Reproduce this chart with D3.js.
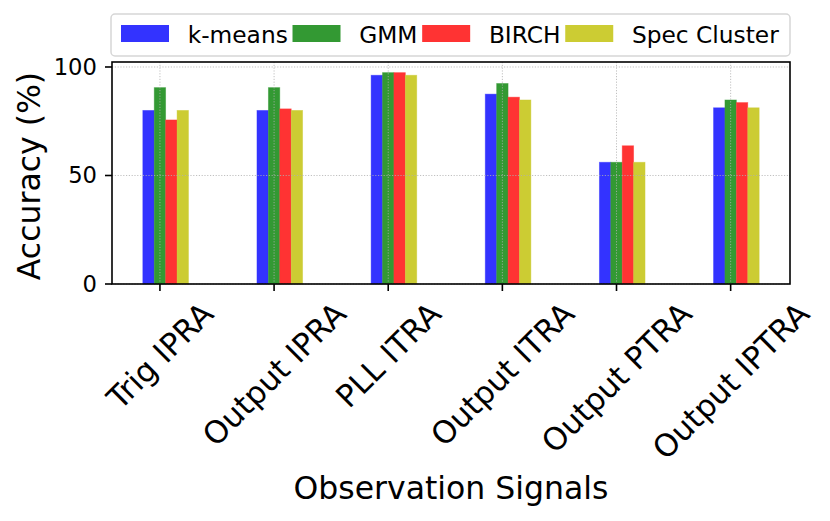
<!DOCTYPE html>
<html lang="en">
<head>
  <meta charset="UTF-8">
  <title>Accuracy by observation signal</title>
  <script src="https://cdn.jsdelivr.net/npm/d3@7"></script>
  <style>
    body { margin: 0; padding: 0; background: #fff; }
    svg { display: block; font-family: "DejaVu Sans", sans-serif; }
  </style>
</head>
<body>
<div id="chart"></div>
<script>
// data
var categories = ["Trig IPRA", "Output IPRA", "PLL ITRA", "Output ITRA", "Output PTRA", "Output IPTRA"];
var seriesNames = ["k-means", "GMM", "BIRCH", "Spec Cluster"];
var kmeans = [80.0, 80.0, 96.2, 87.5, 56.1, 81.2];
var gmm    = [90.5, 90.5, 97.4, 92.4, 56.1, 84.8];
var birch  = [75.6, 80.7, 97.4, 86.1, 63.7, 83.6];
var spec   = [80.0, 80.0, 96.2, 84.8, 56.1, 81.2];
var yTicks = [0, 50, 100];

var series = [kmeans, gmm, birch, spec];
var colors = ["#3333ff", "#339933", "#ff3333", "#cccc33"];
var offsets = [-0.1, 0, 0.1, 0.2];
var barW = 0.1;

var W = 830, H = 521;
var plotL = 112, plotR = 790, plotT = 62, plotB = 284;

var svg = d3.select("#chart").append("svg")
    .attr("width", W).attr("height", H);

var x = d3.scaleLinear().domain([-0.42, 5.52]).range([plotL, plotR]);
var y = d3.scaleLinear().domain([0, 102.3]).range([plotB, plotT]);

// bars
series.forEach(function(vals, s) {
  svg.append("g").selectAll("rect")
    .data(vals)
    .enter().append("rect")
    .attr("x", function(d, i) { return x(i + offsets[s] - barW / 2); })
    .attr("width", x(barW) - x(0))
    .attr("y", function(d) { return y(d); })
    .attr("height", function(d) { return y(0) - y(d); })
    .attr("fill", colors[s])
    .attr("stroke", colors[s])
    .attr("stroke-opacity", 0.5)
    .attr("stroke-width", 0.8);
});

// grid on top of the bars
var grid = svg.append("g")
    .attr("stroke", "#b0b0b0")
    .attr("stroke-width", 0.8)
    .attr("stroke-dasharray", "1.2,1.6");
grid.selectAll(".gy").data(yTicks).enter().append("line")
    .attr("x1", plotL).attr("x2", plotR)
    .attr("y1", function(d) { return y(d); })
    .attr("y2", function(d) { return y(d); });
grid.selectAll(".gx").data(categories).enter().append("line")
    .attr("y1", plotT).attr("y2", plotB)
    .attr("x1", function(d, i) { return x(i); })
    .attr("x2", function(d, i) { return x(i); });

// frame
svg.append("rect")
    .attr("x", plotL).attr("y", plotT)
    .attr("width", plotR - plotL).attr("height", plotB - plotT)
    .attr("fill", "none").attr("stroke", "#000").attr("stroke-width", 1.6);

// y axis
var yAxis = svg.append("g");
yAxis.selectAll("line").data(yTicks).enter().append("line")
    .attr("x1", plotL - 7).attr("x2", plotL)
    .attr("y1", function(d) { return y(d); })
    .attr("y2", function(d) { return y(d); })
    .attr("stroke", "#000").attr("stroke-width", 1.6);
yAxis.selectAll("text").data(yTicks).enter().append("text")
    .attr("x", plotL - 15)
    .attr("y", function(d) { return y(d); })
    .attr("text-anchor", "end")
    .attr("dominant-baseline", "central")
    .attr("font-size", "22.7px")
    .text(function(d) { return d; });

// x axis
var fs = 31;
var xAxis = svg.append("g");
xAxis.selectAll("line").data(categories).enter().append("line")
    .attr("x1", function(d, i) { return x(i); })
    .attr("x2", function(d, i) { return x(i); })
    .attr("y1", plotB).attr("y2", plotB + 7)
    .attr("stroke", "#000").attr("stroke-width", 1.6);
xAxis.selectAll("text").data(categories).enter().append("text")
    .attr("text-anchor", "middle")
    .attr("dominant-baseline", "central")
    .attr("font-size", fs + "px")
    .text(function(d) { return d; })
    .each(function(d, i) {
      var w = this.getComputedTextLength();
      var cy = 297 + (w + fs) / (2 * Math.SQRT2);
      d3.select(this).attr("transform",
        "translate(" + x(i) + "," + cy + ") rotate(-45)");
    });

// axis titles
svg.append("text")
    .attr("transform", "translate(29,176) rotate(-90)")
    .attr("text-anchor", "middle")
    .attr("dominant-baseline", "central")
    .attr("font-size", "31.5px")
    .text("Accuracy (%)");
svg.append("text")
    .attr("x", (plotL + plotR) / 2).attr("y", 499)
    .attr("text-anchor", "middle")
    .attr("font-size", "31.5px")
    .text("Observation Signals");

// legend
var legend = svg.append("g");
legend.append("rect")
    .attr("x", 111).attr("y", 14)
    .attr("width", 679).attr("height", 42)
    .attr("rx", 4)
    .attr("fill", "#fff").attr("fill-opacity", 0.8)
    .attr("stroke", "#d6d6d6").attr("stroke-width", 1.5);
var lx = 121;
seriesNames.forEach(function(name, s) {
  legend.append("rect")
      .attr("x", lx).attr("y", 25)
      .attr("width", 48).attr("height", 17)
      .attr("fill", colors[s]);
  var t = legend.append("text")
      .attr("x", lx + 66.7).attr("y", 42.7)
      .attr("font-size", "23.3px")
      .text(name);
  lx = lx + 66.7 + t.node().getComputedTextLength() + 4.7;
});
</script>
</body>
</html>
